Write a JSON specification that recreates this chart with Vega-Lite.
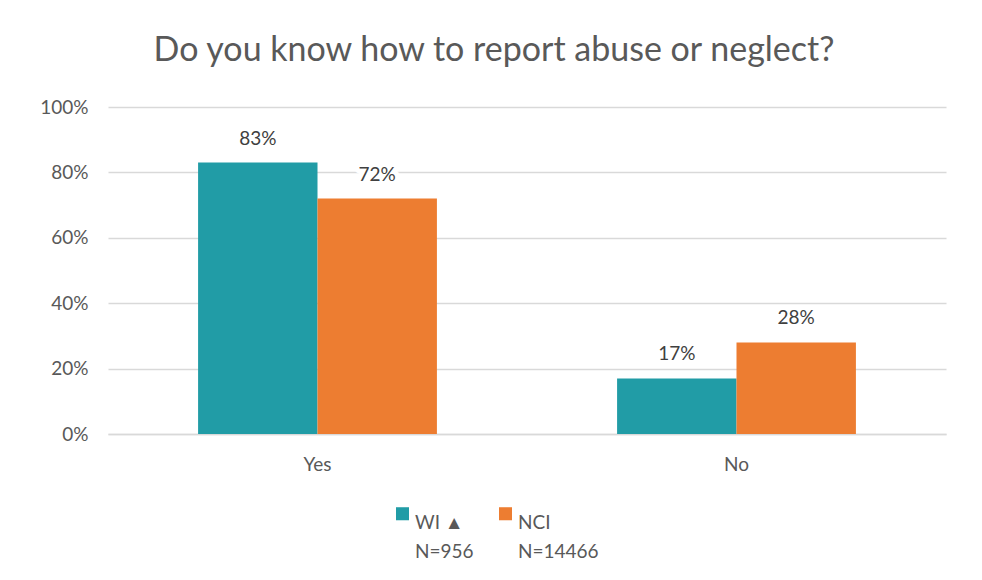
{
  "$schema": "https://vega.github.io/schema/vega-lite/v6.json",
  "width": 838,
  "height": 327,
  "autosize": {"type": "none"},
  "padding": {"left": 108, "top": 107, "right": 36, "bottom": 146},
  "background": "white",
  "config": {
    "view": {"stroke": null},
    "style": {"guide-label": {"lineHeight": 29}}
  },
  "title": {
    "text": "Do you know how to report abuse or neglect?",
    "font": "Lato",
    "fontSize": 34,
    "fontWeight": "normal",
    "color": "#595959",
    "anchor": "middle",
    "dx": -33,
    "offset": 30
  },
  "data": {
    "values": [
      {"answer": "Yes", "group": "WI ▲", "pct": 0.83},
      {"answer": "Yes", "group": "NCI", "pct": 0.72},
      {"answer": "No", "group": "WI ▲", "pct": 0.17},
      {"answer": "No", "group": "NCI", "pct": 0.28}
    ]
  },
  "encoding": {
    "x": {
      "field": "answer",
      "type": "nominal",
      "sort": ["Yes", "No"],
      "title": null,
      "scale": {"paddingInner": 0.43, "paddingOuter": 0.215},
      "axis": {
        "labelAngle": 0,
        "labelFont": "Lato",
        "labelFontSize": 19,
        "labelColor": "#595959",
        "labelPadding": 21,
        "ticks": false,
        "domainColor": "#d9d9d9",
        "domainWidth": 1.5
      }
    },
    "xOffset": {"field": "group", "type": "nominal", "sort": ["WI ▲", "NCI"], "scale": {"paddingInner": 0, "paddingOuter": 0}},
    "y": {
      "field": "pct",
      "type": "quantitative",
      "title": null,
      "scale": {"domain": [0, 1]},
      "axis": {
        "format": ".0%",
        "values": [0, 0.2, 0.4, 0.6, 0.8, 1],
        "labelOverlap": false,
        "labelFont": "Lato",
        "labelFontSize": 19,
        "labelColor": "#595959",
        "labelPadding": 20,
        "ticks": false,
        "domain": false,
        "gridColor": "#d9d9d9",
        "gridWidth": 1.5
      }
    }
  },
  "layer": [
    {
      "mark": {"type": "bar"},
      "encoding": {
        "color": {
          "field": "group",
          "type": "nominal",
          "sort": ["WI ▲", "NCI"],
          "scale": {"domain": ["WI ▲", "NCI"], "range": ["#219CA6", "#ED7D31"]},
          "legend": {
            "title": null,
            "orient": "none",
            "legendX": 285,
            "legendY": 397,
            "direction": "horizontal",
            "symbolType": "square",
            "symbolSize": 170,
            "symbolStrokeWidth": 0,
            "labelFont": "Lato",
            "labelFontSize": 19,
            "labelColor": "#595959",
            "labelBaseline": "top",
            "labelOffset": 3,
            "columnPadding": 22,
            "labelExpr": "datum.label == 'NCI' ? ['NCI', 'N=14466'] : ['WI ▲', 'N=956']"
          }
        }
      }
    },
    {
      "mark": {"type": "text", "baseline": "bottom", "dy": -14, "font": "Lato", "fontSize": 19, "stroke": "white", "strokeWidth": 10, "fill": "white"},
      "encoding": {"text": {"field": "pct", "type": "quantitative", "format": ".0%"}}
    },
    {
      "mark": {"type": "text", "baseline": "bottom", "dy": -14, "font": "Lato", "fontSize": 19, "fill": "#404040"},
      "encoding": {"text": {"field": "pct", "type": "quantitative", "format": ".0%"}}
    }
  ]
}
